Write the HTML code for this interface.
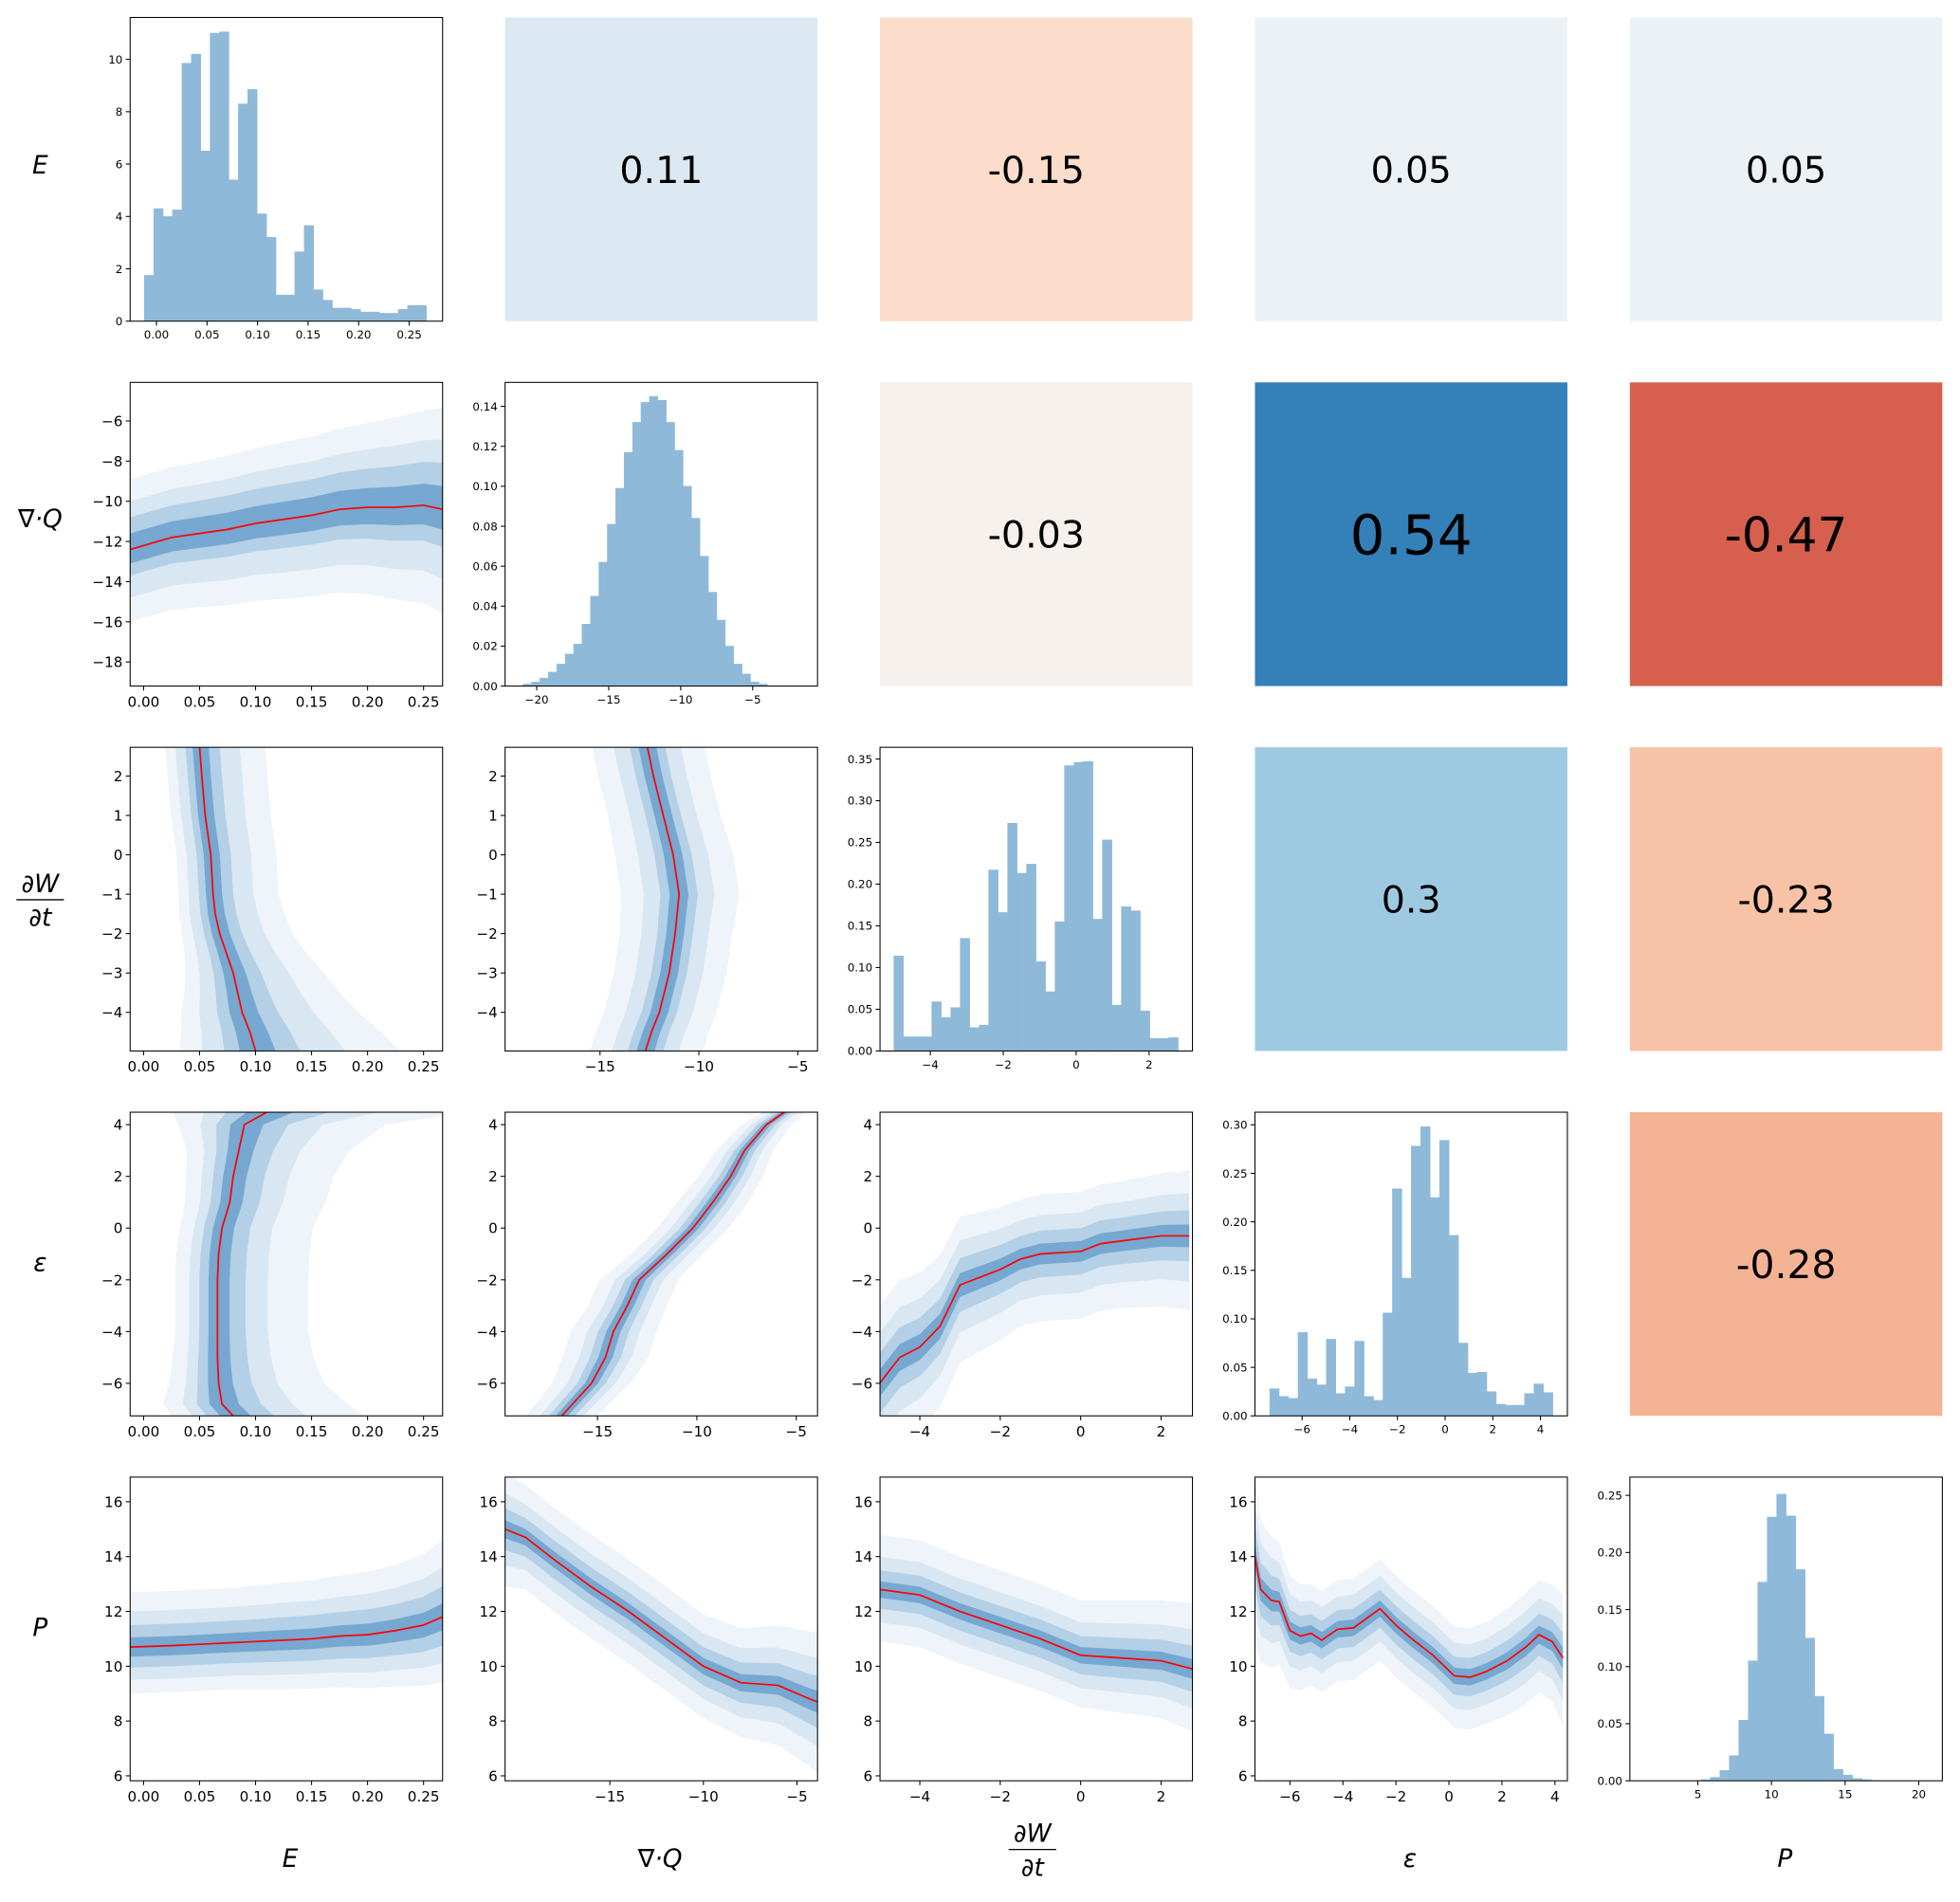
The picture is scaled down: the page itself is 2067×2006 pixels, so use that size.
<!DOCTYPE html>
<html><head><meta charset="utf-8">
<style>
html,body{margin:0;padding:0;background:#fff;}
svg{display:block;}
text{font-family:"DejaVu Sans","Liberation Sans",sans-serif;}
</style></head>
<body>
<svg id="chart" width="2067" height="2006" viewBox="0 0 1568 1522" xmlns="http://www.w3.org/2000/svg">
<rect width="1568" height="1522" fill="#fff"/>
</svg>
<script>
// ---------- DATA ----------
const hE_start = -0.012, hE_width = 0.0093;
const hE_counts = [1.75,4.3,4.0,4.25,9.85,10.2,6.5,11.0,11.05,5.4,8.3,8.85,4.1,3.2,1.0,1.0,2.65,3.65,1.2,0.8,0.5,0.5,0.45,0.35,0.35,0.3,0.3,0.45,0.6,0.6];
const hQ_start = -20.95, hQ_width = 0.585;
const hQ_counts = [0.001,0.002,0.004,0.007,0.011,0.016,0.021,0.031,0.045,0.062,0.081,0.099,0.117,0.132,0.142,0.145,0.143,0.132,0.118,0.1,0.084,0.065,0.047,0.033,0.02,0.011,0.006,0.002,0.001,0.0];
const hW_start = -5.0, hW_width = 0.26;
const hW_counts = [0.114,0.017,0.017,0.017,0.059,0.040,0.052,0.135,0.028,0.031,0.217,0.166,0.273,0.213,0.224,0.107,0.071,0.155,0.342,0.346,0.347,0.158,0.253,0.055,0.173,0.168,0.048,0.015,0.015,0.016];
const hEps_start = -7.36, hEps_width = 0.396;
const hEps_counts = [0.028,0.020,0.018,0.086,0.038,0.032,0.079,0.023,0.030,0.077,0.020,0.016,0.106,0.234,0.142,0.278,0.298,0.225,0.284,0.186,0.075,0.044,0.045,0.025,0.012,0.011,0.011,0.023,0.033,0.024];
const hP_start = 4.57, hP_width = 0.643;
const hP_counts = [0.0003,0.001,0.003,0.009,0.022,0.053,0.105,0.174,0.231,0.251,0.232,0.185,0.125,0.074,0.041,0.010,0.005,0.002,0.001,0.0003];

const p21_ind = [-0.012,0.025,0.05,0.075,0.1,0.125,0.15,0.175,0.2,0.225,0.25,0.267];
const p21_med = [-12.4,-11.8,-11.6,-11.4,-11.1,-10.9,-10.7,-10.4,-10.3,-10.3,-10.2,-10.4];
const p21_spr = [1.0,1.0,1.02,1.05,1.07,1.1,1.12,1.15,1.2,1.28,1.35,1.45];
const p21_lo = [0.7,1.3,2.4,3.6], p21_hi = [0.8,1.6,2.4,3.5];

const p31_ind = [-4.98,-4.5,-4,-3.5,-3,-2.5,-2,-1.5,-1,0,1,2,2.73];
const p31_med = [0.1,0.095,0.088,0.084,0.08,0.074,0.068,0.064,0.062,0.06,0.055,0.052,0.05];
const p31_spr = [2.0,1.8,1.6,1.4,1.25,1.1,1.0,0.95,0.9,0.9,0.9,0.9,0.9];
const p31_lo = [0.007,0.014,0.024,0.034], p31_hi = [0.009,0.02,0.04,0.065];

const p32_ind = [-4.98,-4.5,-4,-3,-2,-1,0,1,2,2.73];
const p32_med = [-12.7,-12.4,-12.0,-11.5,-11.2,-11.0,-11.3,-11.8,-12.3,-12.6];
const p32_spr = [1.0,1.0,1.0,1.0,1.0,1.05,1.05,1.0,1.0,1.0];
const p32_lo = [0.45,0.9,1.7,2.8], p32_hi = [0.45,0.9,1.7,2.9];

const p41_ind = [-7.26,-6.8,-6,-5,-4,-3,-2,-1,0,1,2,3,4,4.48];
const p41_med = [0.08,0.07,0.067,0.066,0.066,0.066,0.066,0.067,0.07,0.077,0.08,0.085,0.09,0.11];
const p41_spr = [1.3,1.25,1.05,0.95,0.9,0.9,0.9,0.9,0.9,0.95,1.0,1.1,1.4,2.0];
const p41_lo = [0.009,0.018,0.028,0.042], p41_hi = [0.012,0.028,0.05,0.09];

const p42_ind = [-7.26,-6,-5,-4,-3,-2,-1,0,1,2,3,4,4.48];
const p42_med = [-16.8,-15.3,-14.6,-14.2,-13.5,-12.9,-11.5,-10.2,-9.2,-8.3,-7.6,-6.5,-5.6];
const p42_spr = [1.0,1.1,1.2,1.2,1.1,1.1,1.0,1.0,1.0,0.9,0.8,0.7,0.6];
const p42_lo = [0.3,0.65,1.1,1.8], p42_hi = [0.3,0.65,1.1,1.8];

const p43_ind = [-5,-4.5,-4,-3.5,-3,-2.5,-2,-1.5,-1,0,0.5,1,2,2.7];
const p43_med = [-6.0,-5.0,-4.6,-3.8,-2.2,-1.9,-1.6,-1.2,-1.0,-0.9,-0.6,-0.5,-0.3,-0.3];
const p43_spr = [1.3,1.3,1.25,1.2,1.15,1.1,1.05,1.0,1.0,1.0,1.0,1.0,1.05,1.1];
const p43_lo = [0.4,0.9,1.6,2.6], p43_hi = [0.4,0.9,1.5,2.3];

const p51_ind = [-0.012,0.025,0.05,0.075,0.1,0.125,0.15,0.175,0.2,0.225,0.25,0.267];
const p51_med = [10.7,10.75,10.8,10.85,10.9,10.95,11.0,11.1,11.15,11.3,11.5,11.8];
const p51_spr = [1.0,1.0,1.0,1.0,1.02,1.05,1.07,1.1,1.15,1.2,1.3,1.4];
const p51_lo = [0.35,0.75,1.2,1.7], p51_hi = [0.35,0.8,1.3,2.0];

const p52_ind = [-20.6,-19.5,-18,-16,-14,-12,-10,-8,-6,-4.3,-3.9];
const p52_med = [15.0,14.7,13.9,12.9,12.0,11.0,10.0,9.4,9.3,8.8,8.7];
const p52_spr = [1.1,1.0,1.0,1.0,1.0,1.0,1.0,1.05,1.15,1.3,1.35];
const p52_lo = [0.3,0.7,1.2,1.9], p52_hi = [0.3,0.7,1.2,1.9];

const p53_ind = [-4.99,-4,-3,-2,-1,0,1,2,2.78];
const p53_med = [12.8,12.6,12.0,11.5,11.0,10.4,10.3,10.2,9.9];
const p53_spr = [1.0,1.0,1.0,1.0,1.0,1.0,1.05,1.1,1.2];
const p53_lo = [0.3,0.7,1.2,1.9], p53_hi = [0.3,0.7,1.2,2.0];

const p54_ind = [-7.32,-7.1,-6.7,-6.4,-6.0,-5.6,-5.2,-4.8,-4.2,-3.6,-2.6,-2.0,-1.4,-0.6,0.2,0.8,1.4,2.2,2.9,3.4,3.9,4.3];
const p54_med = [14.0,12.8,12.4,12.35,11.3,11.1,11.2,10.95,11.35,11.4,12.1,11.5,11.0,10.4,9.65,9.6,9.8,10.2,10.7,11.15,10.9,10.3];
const p54_spr = [1.6,1.4,1.3,1.2,1.1,1.05,1.0,1.0,1.0,1.0,1.0,1.0,1.0,1.0,1.0,1.0,1.0,1.05,1.1,1.1,1.15,1.3];
const p54_lo = [0.3,0.7,1.2,1.9], p54_hi = [0.3,0.7,1.2,1.8];

const corrRows = [0,0,0,0,1,1,1,2,2,3];
const corrCols = [1,2,3,4,2,3,4,3,4,4];
const corrVals = [0.11,-0.15,0.05,0.05,-0.03,0.54,-0.47,0.3,-0.23,-0.28];
const corrColors = ['#dce9f2','#fcdccb','#ecf1f6','#ecf1f6','#f6f1ec','#3480b9','#d6604d','#9ecae1','#f8c2a7','#f4b394'];
const corrSizes = [30,30,29,29,30,44,38,30,30,31];

// ---------- DRAWING ----------
const NS = 'http://www.w3.org/2000/svg';
const svg = document.getElementById('chart');
function mk(tag, attrs, parent) {
  const e = document.createElementNS(NS, tag);
  for (const k in attrs) e.setAttribute(k, attrs[k]);
  (parent || svg).appendChild(e);
  return e;
}
const PW = 250, PH = 243;
function px(c){return 104 + 300*c;}
function py(r){return 14 + 292*r;}
function fmt(v, dec){const s = Math.abs(v).toFixed(dec); return (v < -1e-9 ? '\u2212' : '') + s;}

function makeAxes(r, c, xr, yr, xt, xdec, yt, ydec, fs, name) {
  const g = mk('g', {});
  
  
  const x0 = px(c), y0 = py(r);
  const sx = v => x0 + (v - xr[0]) / (xr[1] - xr[0]) * PW;
  const sy = v => y0 + PH - (v - yr[0]) / (yr[1] - yr[0]) * PH;
  const clipId = 'clip' + r + c;
  const cp = mk('clipPath', {id: clipId}, g);
  mk('rect', {x: x0, y: y0, width: PW, height: PH}, cp);
  const plot = mk('g', {'clip-path': 'url(#' + clipId + ')'}, g);
  
  
  const frame = mk('rect', {x: x0, y: y0, width: PW, height: PH, fill: 'none', stroke: '#000', 'stroke-width': 0.8});
  g.appendChild(frame);
  
  
  for (const t of xt) {
    const X = sx(t);
    if (X < x0 - 0.5 || X > x0 + PW + 0.5) continue;
    mk('line', {x1: X, x2: X, y1: y0 + PH, y2: y0 + PH + 3.5, stroke: '#000', 'stroke-width': 0.8}, g);
    const tx = mk('text', {x: X, y: y0 + PH + 5 + fs, 'font-size': fs, 'text-anchor': 'middle', fill: '#000'}, g);
    tx.textContent = fmt(t, xdec);
    
    
  }
  for (const t of yt) {
    const Y = sy(t);
    if (Y < y0 - 0.5 || Y > y0 + PH + 0.5) continue;
    mk('line', {x1: x0 - 3.5, x2: x0, y1: Y, y2: Y, stroke: '#000', 'stroke-width': 0.8}, g);
    const ty = mk('text', {x: x0 - 6, y: Y + fs*0.36, 'font-size': fs, 'text-anchor': 'end', fill: '#000'}, g);
    ty.textContent = fmt(t, ydec);
    
    
  }
  return {sx, sy, plot};
}

function drawHist(ax, start, width, counts) {
  counts.forEach((h, i) => {
    const a = start + i*width, b = a + width;
    const x1 = ax.sx(a), x2 = ax.sx(b), yT = ax.sy(h), yB = ax.sy(0);
    const bar = mk('rect', {x: x1, y: yT, width: Math.max(0, x2 - x1), height: Math.max(0, yB - yT), fill: '#8fb9d9', stroke: '#8fb9d9', 'stroke-width': 0.4}, ax.plot);
    
    
  });
}

const bandColors = ['#76a8d1', '#b4d0e6', '#d9e7f2', '#eef4f9'];
function drawBands(ax, ind, med, spr, lo, hi, vertical) {
  const P = (i, v) => vertical ? [ax.sx(v), ax.sy(i)] : [ax.sx(i), ax.sy(v)];
  for (let k = 3; k >= 0; k--) {
    const pts = [];
    for (let j = 0; j < ind.length; j++) pts.push(P(ind[j], med[j] + hi[k]*spr[j]));
    for (let j = ind.length - 1; j >= 0; j--) pts.push(P(ind[j], med[j] - lo[k]*spr[j]));
    const poly = mk('polygon', {points: pts.map(p => p[0].toFixed(2) + ',' + p[1].toFixed(2)).join(' '), fill: bandColors[k]}, ax.plot);
    
    
  }
  const lp = [];
  for (let j = 0; j < ind.length; j++) lp.push(P(ind[j], med[j]));
  const line = mk('polyline', {points: lp.map(p => p[0].toFixed(2) + ',' + p[1].toFixed(2)).join(' '), fill: 'none', stroke: '#ff0000', 'stroke-width': 1.3}, ax.plot);
  
  
}

const rE1 = [-0.026, 0.283], rE = [-0.012, 0.267];
const tE = [0, 0.05, 0.1, 0.15, 0.2, 0.25];
const rW = [-4.98, 2.73], tW = [-4, -3, -2, -1, 0, 1, 2];
const rEps = [-7.26, 4.48], tEps = [-6, -4, -2, 0, 2, 4];
const rP = [5.82, 16.9], tP = [6, 8, 10, 12, 14, 16];

let ax = makeAxes(0, 0, rE1, [0, 11.6], tE, 2, [0, 2, 4, 6, 8, 10], 0, 9, 'hist-e');
drawHist(ax, hE_start, hE_width, hE_counts);
ax = makeAxes(1, 0, rE, [-19.2, -4.08], tE, 2, [-18, -16, -14, -12, -10, -8, -6], 0, 11.5, 'divq-vs-e');
drawBands(ax, p21_ind, p21_med, p21_spr, p21_lo, p21_hi, false);
ax = makeAxes(1, 1, [-22.2, -0.5], [0, 0.152], [-20, -15, -10, -5], 0, [0, 0.02, 0.04, 0.06, 0.08, 0.1, 0.12, 0.14], 2, 9, 'hist-divq');
drawHist(ax, hQ_start, hQ_width, hQ_counts);
ax = makeAxes(2, 0, rE, rW, tE, 2, tW, 0, 11.5, 'dwdt-vs-e');
drawBands(ax, p31_ind, p31_med, p31_spr, p31_lo, p31_hi, true);
ax = makeAxes(2, 1, [-19.8, -4.0], rW, [-15, -10, -5], 0, tW, 0, 11.5, 'dwdt-vs-divq');
drawBands(ax, p32_ind, p32_med, p32_spr, p32_lo, p32_hi, true);
ax = makeAxes(2, 2, [-5.38, 3.19], [0, 0.364], [-4, -2, 0, 2], 0, [0, 0.05, 0.1, 0.15, 0.2, 0.25, 0.3, 0.35], 2, 9, 'hist-dwdt');
drawHist(ax, hW_start, hW_width, hW_counts);
ax = makeAxes(3, 0, rE, rEps, tE, 2, tEps, 0, 11.5, 'eps-vs-e');
drawBands(ax, p41_ind, p41_med, p41_spr, p41_lo, p41_hi, true);
ax = makeAxes(3, 1, [-19.65, -3.93], rEps, [-15, -10, -5], 0, tEps, 0, 11.5, 'eps-vs-divq');
drawBands(ax, p42_ind, p42_med, p42_spr, p42_lo, p42_hi, true);
ax = makeAxes(3, 2, [-4.99, 2.78], rEps, [-4, -2, 0, 2], 0, tEps, 0, 11.5, 'eps-vs-dwdt');
drawBands(ax, p43_ind, p43_med, p43_spr, p43_lo, p43_hi, false);
ax = makeAxes(3, 3, [-7.98, 5.13], [0, 0.313], [-6, -4, -2, 0, 2, 4], 0, [0, 0.05, 0.1, 0.15, 0.2, 0.25, 0.3], 2, 9, 'hist-eps');
drawHist(ax, hEps_start, hEps_width, hEps_counts);
ax = makeAxes(4, 0, rE, rP, tE, 2, tP, 0, 11.5, 'p-vs-e');
drawBands(ax, p51_ind, p51_med, p51_spr, p51_lo, p51_hi, false);
ax = makeAxes(4, 1, [-20.6, -3.9], rP, [-15, -10, -5], 0, tP, 0, 11.5, 'p-vs-divq');
drawBands(ax, p52_ind, p52_med, p52_spr, p52_lo, p52_hi, false);
ax = makeAxes(4, 2, [-4.99, 2.78], rP, [-4, -2, 0, 2], 0, tP, 0, 11.5, 'p-vs-dwdt');
drawBands(ax, p53_ind, p53_med, p53_spr, p53_lo, p53_hi, false);
ax = makeAxes(4, 3, [-7.32, 4.47], rP, [-6, -4, -2, 0, 2, 4], 0, tP, 0, 11.5, 'p-vs-eps');
drawBands(ax, p54_ind, p54_med, p54_spr, p54_lo, p54_hi, false);
ax = makeAxes(4, 4, [0.39, 21.6], [0, 0.266], [5, 10, 15, 20], 0, [0, 0.05, 0.1, 0.15, 0.2, 0.25], 2, 9, 'hist-p');
drawHist(ax, hP_start, hP_width, hP_counts);

corrVals.forEach((v, i) => {
  const x0 = px(corrCols[i]), y0 = py(corrRows[i]);
  const cell = mk('rect', {x: x0, y: y0, width: PW, height: PH, fill: corrColors[i]});
  
  
  const t = mk('text', {x: x0 + PW/2, y: y0 + PH/2 + corrSizes[i]*0.36, 'font-size': corrSizes[i], 'text-anchor': 'middle', fill: '#000'});
  t.textContent = String(v);
  
  
});

function label(x, y, txt, name) {
  const t = mk('text', {x: x, y: y, 'font-size': 20, 'font-style': 'italic', 'text-anchor': 'middle', fill: '#000'});
  t.textContent = txt;
  
  
}
function frac(cx, cy, name) {
  const g = mk('g', {});
  
  
  const a = mk('text', {x: cx, y: cy - 6, 'font-size': 20, 'font-style': 'italic', 'text-anchor': 'middle'}, g);
  a.textContent = '\u2202W';
  mk('line', {x1: cx - 19, x2: cx + 19, y1: cy, y2: cy, stroke: '#000', 'stroke-width': 1}, g);
  const b = mk('text', {x: cx, y: cy + 21, 'font-size': 20, 'font-style': 'italic', 'text-anchor': 'middle'}, g);
  b.textContent = '\u2202t';
}
label(32, 139, 'E', 'row-label-e');
label(32, 422, '\u2207\u00b7Q', 'row-label-divq');
frac(32, 720, 'row-label-dwdt');
label(32, 1017, '\u03b5', 'row-label-eps');
label(32, 1309, 'P', 'row-label-p');
label(232, 1494, 'E', 'col-label-e');
label(528, 1494, '\u2207\u00b7Q', 'col-label-divq');
frac(826, 1480, 'col-label-dwdt');
label(1128, 1494, '\u03b5', 'col-label-eps');
label(1428, 1494, 'P', 'col-label-p');
</script>
</body></html>
